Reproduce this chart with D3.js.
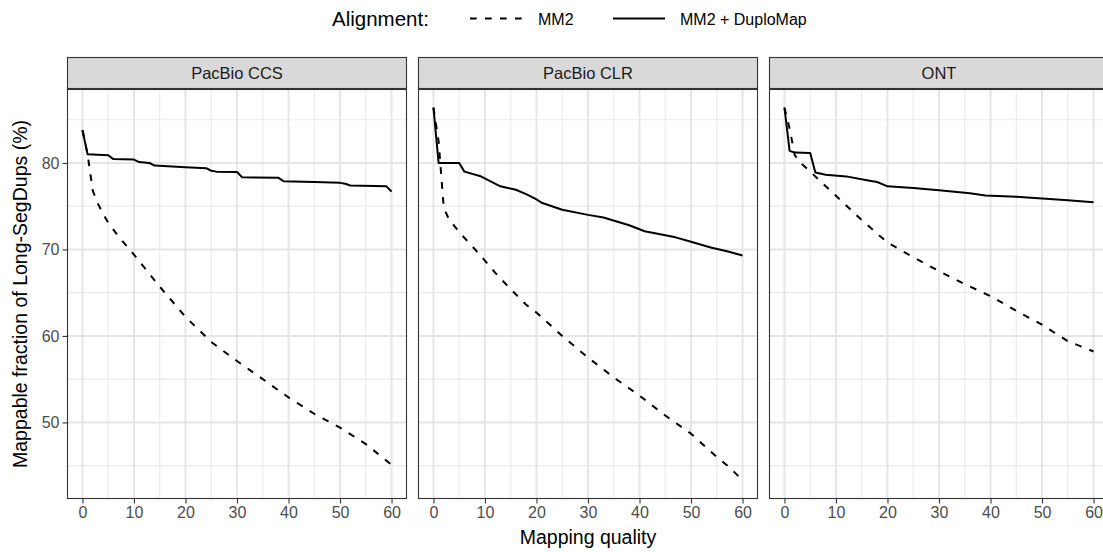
<!DOCTYPE html>
<html>
<head>
<meta charset="utf-8">
<script src="https://cdn.jsdelivr.net/npm/d3@7"></script>
<style>
  body { margin: 0; background: #fff; }
  svg { display: block; font-family: "Liberation Sans", Arial, sans-serif; }
</style>
</head>
<body>
<div id="chart"></div>
<script>
// data: mapping-quality threshold vs mappable fraction (%)
const panelNames = ["PacBio CCS", "PacBio CLR", "ONT"];
const seriesNames = ["MM2", "MM2 + DuploMap"];
const xTicks = [0, 10, 20, 30, 40, 50, 60];
const yTicks = [50, 60, 70, 80];

const ccsMm2Q = [0, 1, 2, 3, 4, 5, 7, 10, 15, 20, 25, 30, 35, 40, 45, 50, 55, 60];
const ccsMm2Pct = [83.8, 81.0, 76.8, 75.3, 74.1, 73.1, 71.5, 69.4, 65.7, 62.2, 59.3, 57.1, 55.0, 52.9, 51.0, 49.4, 47.5, 45.1];
const ccsDuploQ = [0, 1, 5, 6, 10, 11, 13, 14, 20, 24, 25, 26, 30, 31, 38, 39, 45, 50, 51, 52, 59, 60];
const ccsDuploPct = [83.8, 81.0, 80.9, 80.45, 80.4, 80.1, 80.0, 79.7, 79.5, 79.4, 79.1, 79.0, 78.95, 78.35, 78.3, 77.9, 77.8, 77.7, 77.6, 77.4, 77.3, 76.7];

const clrMm2Q = [0, 1, 2, 3, 5, 7, 9, 12, 15, 18, 20, 25, 30, 35, 40, 45, 50, 55, 57.5, 60];
const clrMm2Pct = [86.4, 82.5, 74.8, 73.5, 72.0, 70.7, 69.4, 67.3, 65.4, 63.6, 62.7, 60.0, 57.5, 55.2, 53.1, 50.8, 48.7, 46.0, 44.8, 43.3];
const clrDuploQ = [0, 1, 5, 6, 9, 13, 16, 18, 20, 21, 25, 30, 33, 38, 41, 47, 50, 54, 57, 60];
const clrDuploPct = [86.4, 80.0, 80.0, 79.0, 78.5, 77.3, 76.9, 76.4, 75.8, 75.4, 74.6, 74.0, 73.7, 72.8, 72.1, 71.4, 70.9, 70.2, 69.8, 69.3];

const ontMm2Q = [0, 1, 2, 3, 5, 10, 15, 20, 25, 30, 35, 40, 45, 50, 55, 60];
const ontMm2Pct = [86.4, 84.0, 80.9, 80.1, 79.0, 76.2, 73.4, 70.8, 69.1, 67.5, 66.0, 64.6, 62.9, 61.3, 59.4, 58.2];
const ontDuploQ = [0, 1, 2, 5, 6, 8, 12, 16, 18, 20, 25, 30, 36, 39, 45, 50, 55, 60];
const ontDuploPct = [86.4, 81.4, 81.2, 81.15, 78.9, 78.65, 78.45, 78.0, 77.8, 77.3, 77.1, 76.85, 76.5, 76.25, 76.1, 75.9, 75.7, 75.45];

const zip = (q, v) => q.map((d, i) => ({q: d, v: v[i]}));
const panels = [
  {name: panelNames[0], series: [zip(ccsMm2Q, ccsMm2Pct), zip(ccsDuploQ, ccsDuploPct)]},
  {name: panelNames[1], series: [zip(clrMm2Q, clrMm2Pct), zip(clrDuploQ, clrDuploPct)]},
  {name: panelNames[2], series: [zip(ontMm2Q, ontMm2Pct), zip(ontDuploQ, ontDuploPct)]}
];

// layout
const svgWidth = 1103;
const svgHeight = 552;
const panelW = 340;
const panelGap = 11;
const panelLeft = 67;
const stripTop = 57;
const panelTop = 89;
const panelBottom = 499;
const panelH = panelBottom - panelTop;
const dash = ["6.7,8.3", null];

const svg = d3.select("#chart").append("svg")
  .attr("width", svgWidth)
  .attr("height", svgHeight);

// shared scales, ggplot style 5% expansion
const x = d3.scaleLinear().domain([-3, 63]).range([0, panelW]);
const allV = panels.flatMap(p => p.series.flat().map(d => d.v));
const [vMin, vMax] = d3.extent(allV);
const pad = (vMax - vMin) * 0.05;
const y = d3.scaleLinear().domain([vMin - pad, vMax + pad]).range([panelH, 0]);

const line = d3.line().x(d => x(d.q)).y(d => y(d.v));

panels.forEach((p, i) => {
  const left = panelLeft + i * (panelW + panelGap);

  // strip
  svg.append("rect")
    .attr("x", left + 0.5).attr("y", stripTop + 0.5)
    .attr("width", panelW - 1).attr("height", panelTop - stripTop - 1)
    .attr("fill", "#d9d9d9").attr("stroke", "#333333").attr("stroke-width", 1.1);
  svg.append("text")
    .attr("x", left + panelW / 2).attr("y", stripTop + 21.5)
    .attr("text-anchor", "middle")
    .attr("font-size", "16.5px").attr("fill", "#1a1a1a")
    .text(p.name);

  const g = svg.append("g").attr("transform", `translate(${left},${panelTop})`);
  g.append("rect").attr("width", panelW).attr("height", panelH).attr("fill", "#fff");

  // minor grid
  const xMinor = d3.range(5, 60, 10);
  const yMinor = [45, 55, 65, 75, 85];
  g.selectAll(".xminor").data(xMinor).enter().append("line")
    .attr("x1", d => x(d)).attr("x2", d => x(d))
    .attr("y1", 0).attr("y2", panelH)
    .attr("stroke", "#ebebeb").attr("stroke-width", 1.2);
  g.selectAll(".yminor").data(yMinor).enter().append("line")
    .attr("x1", 0).attr("x2", panelW)
    .attr("y1", d => y(d)).attr("y2", d => y(d))
    .attr("stroke", "#ebebeb").attr("stroke-width", 1.2);
  // major grid
  g.selectAll(".xmajor").data(xTicks).enter().append("line")
    .attr("x1", d => x(d)).attr("x2", d => x(d))
    .attr("y1", 0).attr("y2", panelH)
    .attr("stroke", "#e6e6e6").attr("stroke-width", 2);
  g.selectAll(".ymajor").data(yTicks).enter().append("line")
    .attr("x1", 0).attr("x2", panelW)
    .attr("y1", d => y(d)).attr("y2", d => y(d))
    .attr("stroke", "#e6e6e6").attr("stroke-width", 2);

  // lines
  p.series.forEach((s, k) => {
    g.append("path")
      .datum(s)
      .attr("d", line)
      .attr("fill", "none")
      .attr("stroke", "#000")
      .attr("stroke-width", 2)
      .attr("stroke-linejoin", "round")
      .attr("stroke-dasharray", dash[k]);
  });

  // border
  g.append("rect")
    .attr("x", 0.5).attr("y", 0.5)
    .attr("width", panelW - 1).attr("height", panelH - 1)
    .attr("fill", "none").attr("stroke", "#333333").attr("stroke-width", 1.1);

  // x axis
  const xAxis = g.append("g")
    .attr("transform", `translate(0,${panelH})`)
    .call(d3.axisBottom(x).tickValues(xTicks).tickSize(4.5).tickPadding(3));
  xAxis.select(".domain").remove();
  xAxis.selectAll("line").attr("stroke", "#333333").attr("stroke-width", 1.1);
  xAxis.selectAll("text").attr("fill", "#4d4d4d").attr("font-size", "16px")
    .attr("font-family", "Liberation Sans, Arial, sans-serif");

  if (i === 0) {
    const yAxis = g.append("g")
      .call(d3.axisLeft(y).tickValues(yTicks).tickSize(4.5).tickPadding(3));
    yAxis.select(".domain").remove();
    yAxis.selectAll("line").attr("stroke", "#333333").attr("stroke-width", 1.1);
    yAxis.selectAll("text").attr("fill", "#4d4d4d").attr("font-size", "16px")
      .attr("font-family", "Liberation Sans, Arial, sans-serif");
  }
});

// axis titles
const fullRight = panelLeft + 3 * panelW + 2 * panelGap;
svg.append("text")
  .attr("x", (panelLeft + fullRight) / 2).attr("y", 544)
  .attr("text-anchor", "middle").attr("font-size", "19.5px").attr("fill", "#000")
  .text("Mapping quality");
svg.append("text")
  .attr("transform", `translate(27,${(panelTop + panelBottom) / 2}) rotate(-90)`)
  .attr("text-anchor", "middle").attr("font-size", "19.5px").attr("fill", "#000")
  .text("Mappable fraction of Long-SegDups (%)");

// legend
const legend = svg.append("g");
legend.append("text")
  .attr("x", 332).attr("y", 26)
  .attr("font-size", "20.5px").attr("fill", "#000")
  .text("Alignment:");
const keyX = [470, 613];
const labelX = [538, 680];
seriesNames.forEach((name, k) => {
  legend.append("line")
    .attr("x1", keyX[k]).attr("x2", keyX[k] + 52)
    .attr("y1", 18.5).attr("y2", 18.5)
    .attr("stroke", "#000").attr("stroke-width", 2)
    .attr("stroke-dasharray", dash[k]);
  legend.append("text")
    .attr("x", labelX[k]).attr("y", 25)
    .attr("font-size", "16px").attr("fill", "#000")
    .text(name);
});
</script>
</body>
</html>
